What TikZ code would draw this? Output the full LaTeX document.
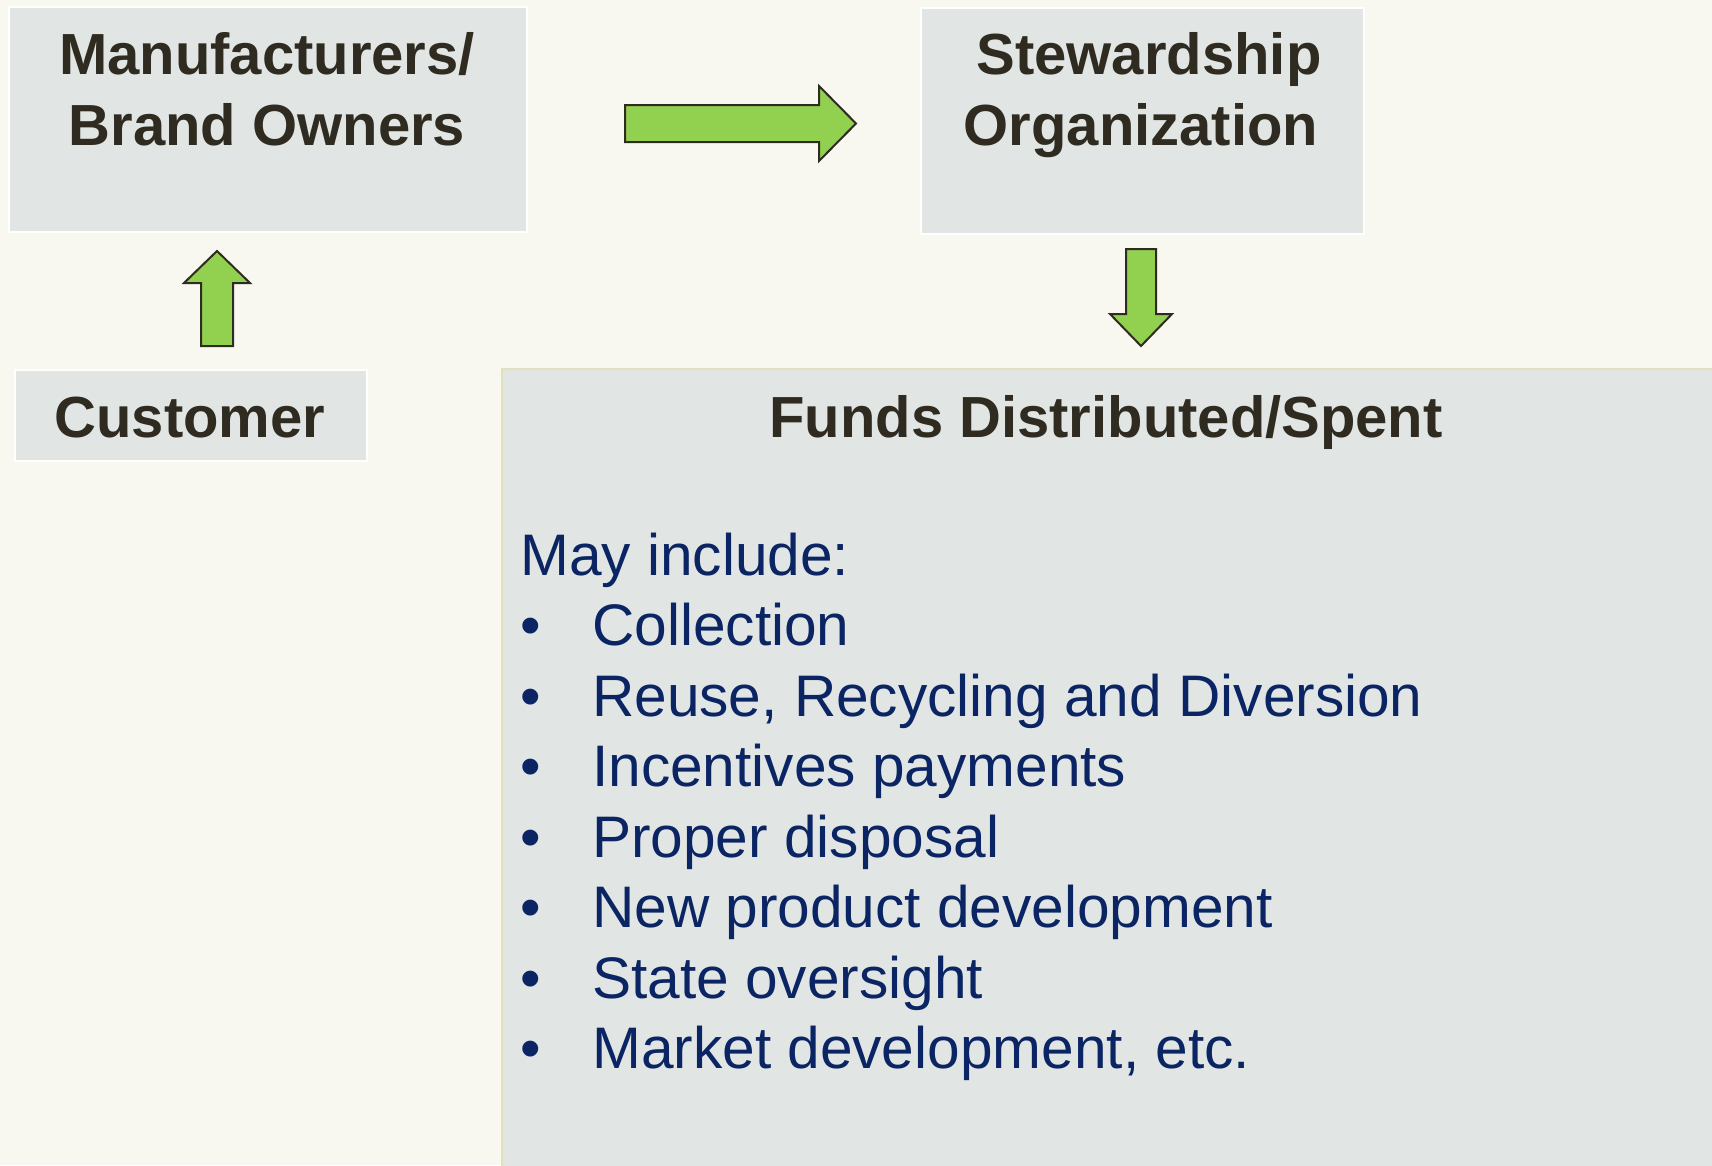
\documentclass[tikz,border=0pt]{standalone}
\usepackage{fontspec}
\setmainfont{Liberation Sans}
\definecolor{bg}{HTML}{F8F8F1}
\definecolor{boxfill}{HTML}{E1E6E4}
\definecolor{ink}{HTML}{2F2B20}
\definecolor{navy}{HTML}{0B2463}
\definecolor{arrowgreen}{HTML}{92D050}
\definecolor{fundborder}{HTML}{E3DFBD}
\begin{document}
\begin{tikzpicture}[x=1pt,y=-1pt,
  box/.style={rectangle, fill=boxfill, draw=white, line width=2pt, anchor=north west, inner sep=0pt},
  head/.style={anchor=base, inner sep=0pt, text=ink, font=\fontsize{58}{70}\selectfont\bfseries},
  body/.style={anchor=base west, inner sep=0pt, text=navy, font=\fontsize{58.6}{70}\selectfont},
  blockarrow/.style={fill=arrowgreen, draw=ink, line width=2pt, line join=miter}]
\fill[bg] (0,0) rectangle (1712,1165);
\useasboundingbox (0,0) rectangle (1712,1165);
% boxes
\node[box, minimum width=518, minimum height=225] (manu) at (8,6) {};
\node[box, minimum width=443, minimum height=226] (stew) at (920,7) {};
\node[box, minimum width=352, minimum height=91] (cust) at (14,369) {};
\node[box, draw=fundborder, minimum width=1215, minimum height=800] (funds) at (501,368) {};
% headings
\node[head] (manuA) at (267,74) {Manufacturers/};
\node[head] (manuB) at (267,145) {Brand Owners};
\node[head] (stewA) at (1149,74) {Stewardship};
\node[head] (stewB) at (1141,145) {Organization};
\node[head] (custT) at (190,437) {Customer};
\node[head] (fundsT) at (1106,437) {Funds Distributed/Spent};
% list
\node[body] (l0) at (520,575) {May include:};
\foreach \y/\t [count=\i] in {645.5/Collection, 716/{Reuse, Recycling and Diversion}, 786.5/Incentives payments, 857/Proper disposal, 927.5/New product development, 998/State oversight, 1068.5/{Market development, etc.}}{
  \node[body] (b\i) at (520,\y) {•};
  \node[body] (l\i) at (592,\y) {\t};
}
% block arrows
\draw[blockarrow] (625,105) -- (819,105) -- (819,86) -- (856,123.5) -- (819,161) -- (819,142) -- (625,142) -- cycle;
\draw[blockarrow] (201,346) -- (201,283) -- (184,283) -- (217,251) -- (250,283) -- (233,283) -- (233,346) -- cycle;
\draw[blockarrow] (1126,249) -- (1156,249) -- (1156,314) -- (1172,314) -- (1141,346) -- (1110,314) -- (1126,314) -- cycle;
\end{tikzpicture}
\end{document}
